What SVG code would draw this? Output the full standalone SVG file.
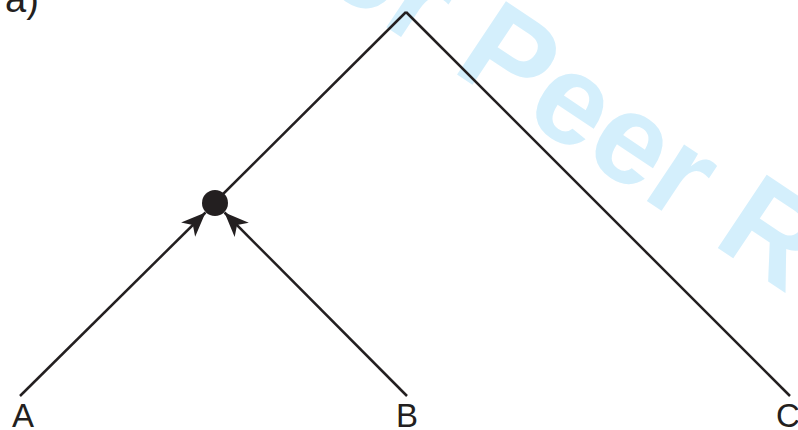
<svg xmlns="http://www.w3.org/2000/svg" width="798" height="430" viewBox="0 0 798 430">
  <defs>
    <style>
      .edge { stroke: #231f20; stroke-width: 2.5; fill: none; }
      .lbl { font-family: "Liberation Sans", Arial, sans-serif; font-size: 33px; fill: #231f20; }
      .wm { font-family: "Liberation Sans", Arial, sans-serif; font-weight: bold; font-size: 128px; fill: #d4effc; }
    </style>
    <marker id="arr" markerUnits="userSpaceOnUse" markerWidth="30" markerHeight="30" viewBox="-25 -12 27 24" refX="0" refY="0" orient="auto">
      <path d="M0,0 L-22,-9 L-16,0 L-22,9 Z" fill="#231f20"/>
    </marker>
  </defs>
  <rect width="798" height="430" fill="#ffffff"/>
  <text class="wm" transform="translate(249,-64.5) rotate(33.7)">For Peer Review</text>
  <text class="lbl" x="5" y="12" style="font-size:38px">a)</text>
  <g id="connectors">
    <line class="edge" x1="406" y1="12" x2="214" y2="203"/>
    <line class="edge" x1="406" y1="12" x2="790" y2="396"/>
    <line class="edge" x1="20" y1="396" x2="205.5" y2="212.5" marker-end="url(#arr)"/>
    <line class="edge" x1="407" y1="396" x2="224.5" y2="212.5" marker-end="url(#arr)"/>
  </g>
  <g id="node-hybrid">
    <circle cx="215" cy="203" r="13" fill="#231f20"/>
  </g>
  <g id="node-A"><text class="lbl" x="23" y="427" text-anchor="middle">A</text></g>
  <g id="node-B"><text class="lbl" x="407" y="427" text-anchor="middle">B</text></g>
  <g id="node-C"><text class="lbl" x="776" y="427">C</text></g>
</svg>
